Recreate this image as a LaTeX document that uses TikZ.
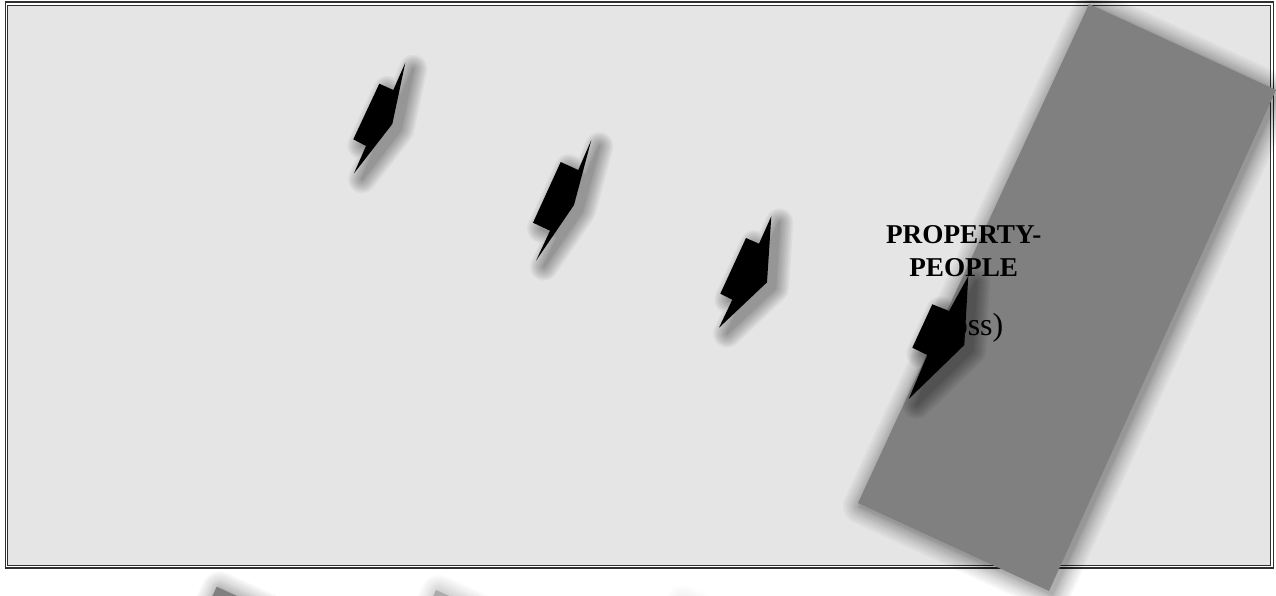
\documentclass[tikz,border=0pt]{standalone}
\usepackage{xcolor}
\usepackage{fontspec}
\setmainfont{Liberation Serif}
\usepackage{tikz}

\definecolor{panelgray}{HTML}{E5E5E5}
\definecolor{slabgray}{HTML}{808080}
\definecolor{framegray}{HTML}{303030}

% soft shadow: offset, opacity of one layer, line widths, path
\newcommand{\softshadow}[4]{%
  \foreach \w in #3{%
    \begin{scope}[transparency group, opacity=#2]
      \path[shift={(#1)}, fill=black, draw=black, line join=round, line width=\w pt] #4;
    \end{scope}}}
\newcommand{\slabwidths}{2,4,6,8,11,14,17,20,24,28,32,36}
\newcommand{\boltwidths}{2,4,7,10,13,16,19,22,25,28}

\begin{document}
\begin{tikzpicture}[x=1pt, y=-1pt,
  frameline/.style={draw=framegray, line width=1.6pt},
  panel/.style={draw=framegray, line width=1pt, fill=panelgray},
  slab/.style={fill=slabgray},
  bolt/.style={fill=black},
  heading/.style={align=center, inner sep=0pt, font=\bfseries\fontsize{27.2}{33.4}\selectfont},
  note/.style={inner sep=0pt, font=\fontsize{32}{36}\selectfont}]
  \useasboundingbox (0,0) rectangle (1276,595);
  \clip (0,0) rectangle (1276,595);

  % frame
  \path[frameline] (5.5,2) rectangle (1273.3,568);
  \path[panel] (7.5,5) rectangle (1270.5,565);

  % tops of the lower slabs
  \softshadow{3,3}{.03}{\slabwidths}{(216.7,586.7) -- ++(187,86) -- ++(-231,499) -- ++(-187,-86) -- cycle}
  \fill[slab] (216.7,586.7) -- ++(187,86) -- ++(-231,499) -- ++(-187,-86) -- cycle;
  \softshadow{3,3}{.02}{\slabwidths}{(436,590) -- ++(187,86) -- ++(-231,499) -- ++(-187,-86) -- cycle}
  \fill[slab, fill=slabgray!65!white] (436,590) -- ++(187,86) -- ++(-231,499) -- ++(-187,-86) -- cycle;
  \softshadow{3,3}{.008}{\slabwidths}{(680,600) -- ++(187,86) -- ++(-231,499) -- ++(-187,-86) -- cycle}

  % main slab
  \softshadow{3,3}{.032}{\slabwidths}{(1089,4) -- (1276,90) -- (1049,591) -- (858,503) -- cycle}
  \fill[slab] (1089,4) -- (1276,90) -- (1049,591) -- (858,503) -- cycle;

  % labels
  \node[heading, anchor=base] (title) at (963.7,276.7) {PROPERTY-\\PEOPLE};
  \node[note, anchor=base east] (loss) at (1003.5,335) {oss)};

  % bolts
  \softshadow{8,6}{.04}{\boltwidths}{(405.3,62.7) -- (393.3,90) -- (379.3,83.7) -- (353.3,139.3) -- (366,146) -- (354,173.3) -- (392.3,124) -- cycle}
  \fill[bolt] (405.3,62.7) -- (393.3,90) -- (379.3,83.7) -- (353.3,139.3) -- (366,146) -- (354,173.3) -- (392.3,124) -- cycle;
  \softshadow{8,6}{.04}{\boltwidths}{(591.3,140) -- (578.3,170) -- (560.7,162) -- (533,222.7) -- (550,230.7) -- (536,260.7) -- (574,205) -- cycle}
  \fill[bolt] (591.3,140) -- (578.3,170) -- (560.7,162) -- (533,222.7) -- (550,230.7) -- (536,260.7) -- (574,205) -- cycle;
  \softshadow{8,6}{.04}{\boltwidths}{(771.3,216.3) -- (759,243.7) -- (746,238) -- (720.3,293.7) -- (732.3,299.7) -- (719,327.7) -- (767,282.3) -- cycle}
  \fill[bolt] (771.3,216.3) -- (759,243.7) -- (746,238) -- (720.3,293.7) -- (732.3,299.7) -- (719,327.7) -- (767,282.3) -- cycle;
  \softshadow{8,6}{.04}{\boltwidths}{(968.3,276) -- (949,311) -- (932.3,304.3) -- (912.3,347.7) -- (927.3,355) -- (908.7,399) -- (964.3,345) -- cycle}
  \fill[bolt] (968.3,276) -- (949,311) -- (932.3,304.3) -- (912.3,347.7) -- (927.3,355) -- (908.7,399) -- (964.3,345) -- cycle;
\end{tikzpicture}
\end{document}
